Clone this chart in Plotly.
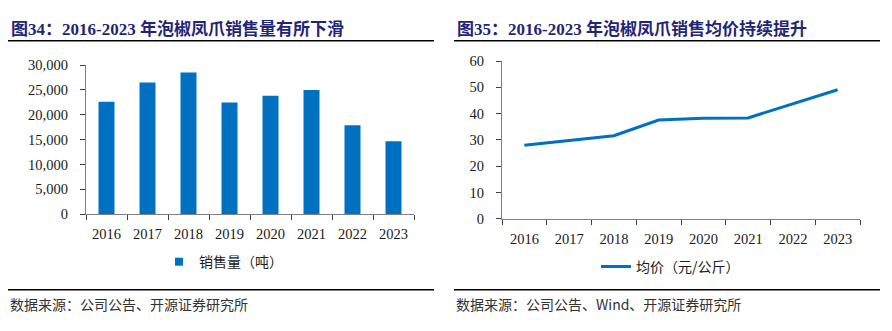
import plotly.graph_objects as go

years = ["2016", "2017", "2018", "2019", "2020", "2021", "2022", "2023"]
sales_volume = [22650, 26500, 28500, 22500, 23850, 25000, 17900, 14700]
avg_price = [28.0, 29.8, 31.6, 37.6, 38.3, 38.4, 43.8, 49.1]

title_left = "图34：2016-2023 年泡椒凤爪销售量有所下滑"
title_right = "图35：2016-2023 年泡椒凤爪销售均价持续提升"
legend_left = "销售量（吨）"
legend_right = "均价（元/公斤）"
source_left = "数据来源：公司公告、开源证券研究所"
source_right = "数据来源：公司公告、Wind、开源证券研究所"

W, H = 892, 331
BLUE = "#0070C0"
NAVY = "#1F2577"
FONT = "Liberation Serif, Noto Sans CJK SC, serif"
CJK = "Noto Sans CJK SC, Liberation Serif"

def px(x):
    return x / W

def py(y):
    return 1 - y / H

fig = go.Figure()

fig.add_trace(go.Bar(
    x=years, y=sales_volume, marker=dict(color=BLUE, line=dict(width=0)),
    width=0.39, xaxis="x", yaxis="y", showlegend=False, name=legend_left,
))
fig.add_trace(go.Scatter(
    x=[None], y=[None], mode="markers", name=legend_left,
    marker=dict(symbol="square", size=8, color=BLUE),
    xaxis="x", yaxis="y", legend="legend", showlegend=True,
))
fig.add_trace(go.Scatter(
    x=years, y=avg_price, mode="lines", name=legend_right,
    line=dict(color=BLUE, width=3), xaxis="x2", yaxis="y2",
    legend="legend2", showlegend=True,
))

axis_common = dict(
    showline=True, linecolor="#808080", linewidth=1.3,
    ticks="outside", ticklen=5, tickcolor="#404040", tickwidth=1,
    showgrid=False, zeroline=False,
    tickfont=dict(family=FONT, size=14.5, color="#1a1a1a"),
)

fig.update_layout(
    width=W, height=H, margin=dict(l=0, r=0, t=0, b=0),
    paper_bgcolor="white", plot_bgcolor="white",
    xaxis=dict(domain=[px(86), px(414)], anchor="y", type="category",
               range=[-0.5, 7.5], tickson="boundaries", ticklabelstandoff=6,
               **axis_common),
    yaxis=dict(domain=[py(216.7), py(60)], anchor="x", range=[0, 30000],
               dtick=5000, tickformat=",", ticklabelstandoff=9, **axis_common),
    xaxis2=dict(domain=[px(502), px(860)], anchor="y2", type="category",
                range=[-0.5, 7.5], tickson="boundaries", ticklabelstandoff=6,
                **axis_common),
    yaxis2=dict(domain=[py(221.7), py(55.7)], anchor="x2", range=[0, 60],
                dtick=10, ticklabelstandoff=9, **axis_common),
    legend=dict(x=px(159), y=py(267), xanchor="left", yanchor="middle",
                orientation="h", bgcolor="rgba(0,0,0,0)",
                font=dict(family=CJK, size=14, color="#1a1a1a")),
    legend2=dict(x=px(596), y=py(272), xanchor="left", yanchor="middle",
                 orientation="h", bgcolor="rgba(0,0,0,0)",
                 font=dict(family=CJK, size=14, color="#1a1a1a")),
)

shapes = []
for x0, x1 in [(8, 434), (454, 880)]:
    shapes.append(dict(type="line", xref="paper", yref="paper",
                       x0=px(x0), x1=px(x1), y0=py(34.5), y1=py(34.5),
                       line=dict(color="black", width=1.5)))
    shapes.append(dict(type="line", xref="paper", yref="paper",
                       x0=px(x0), x1=px(x1), y0=py(296), y1=py(296),
                       line=dict(color="black", width=1.5)))
fig.update_layout(shapes=shapes)

annotations = [
    dict(text=title_left, x=px(9), y=py(22), xanchor="left", yanchor="middle",
         font=dict(family=FONT, size=17, color=NAVY, weight="bold")),
    dict(text=title_right, x=px(455), y=py(22), xanchor="left", yanchor="middle",
         font=dict(family=FONT, size=17, color=NAVY, weight="bold")),
    dict(text=source_left, x=px(8), y=py(311), xanchor="left", yanchor="middle",
         font=dict(family=CJK, size=14, color="#333333")),
    dict(text=source_right, x=px(454), y=py(311), xanchor="left", yanchor="middle",
         font=dict(family=CJK, size=14, color="#333333")),
]
for a in annotations:
    a.update(xref="paper", yref="paper", showarrow=False)
fig.update_layout(annotations=annotations)

fig.write_html("out.html")
